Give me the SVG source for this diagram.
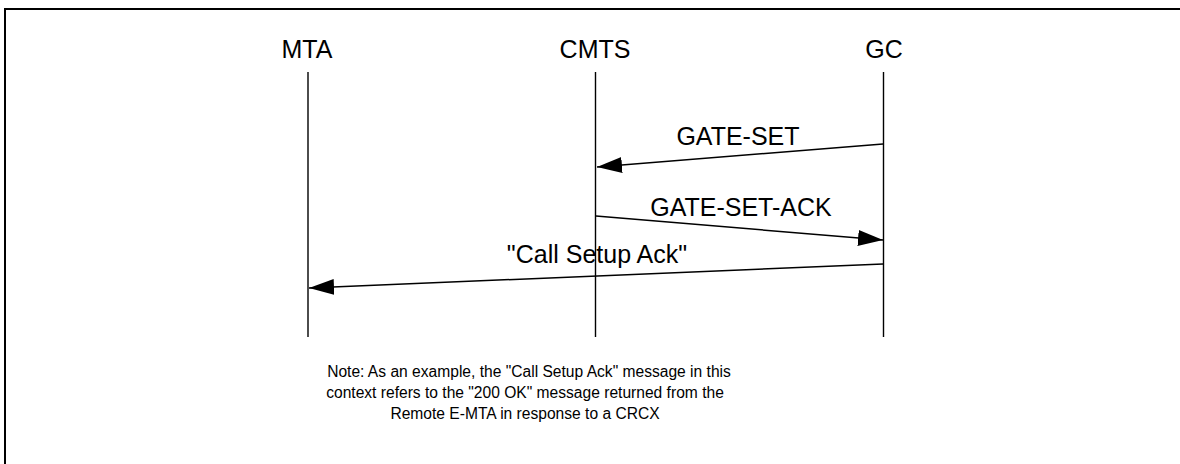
<svg xmlns="http://www.w3.org/2000/svg" width="1180" height="464" viewBox="0 0 1180 464">
  <style>
    text { font-family: "Liberation Sans", Arial, sans-serif; fill: #000; }
    .hdr { font-size: 25px; text-anchor: middle; }
    .msg { font-size: 25px; text-anchor: middle; }
    .note { font-size: 15.6px; text-anchor: middle; }
    .life { stroke: #000; stroke-width: 1.4; fill: none; }
    .arrow { stroke: #000; stroke-width: 1.5; fill: none; marker-end: url(#head); }
  </style>
  <defs>
    <marker id="head" markerUnits="userSpaceOnUse" markerWidth="26" markerHeight="18" refX="25" refY="8" orient="auto">
      <path d="M0,0 L25,8 L0,16 Z" fill="#000"/>
    </marker>
  </defs>
  <rect width="1180" height="464" fill="#fff"/>
  <path d="M5,464 V9 H1180" stroke="#000" stroke-width="2" fill="none"/>

  <g id="MTA">
    <text class="hdr" x="307" y="58">MTA</text>
    <line class="life" x1="308" y1="72" x2="308" y2="337"/>
  </g>
  <g id="CMTS">
    <text class="hdr" x="595" y="58">CMTS</text>
    <line class="life" x1="595.5" y1="72" x2="595.5" y2="337"/>
  </g>
  <g id="GC">
    <text class="hdr" x="884" y="58">GC</text>
    <line class="life" x1="883.5" y1="72" x2="883.5" y2="337"/>
  </g>

  <g id="connectors">
    <line class="arrow" x1="883" y1="144" x2="597" y2="167"/>
    <text class="msg" x="738" y="145">GATE-SET</text>
    <line class="arrow" x1="596" y1="216" x2="883" y2="240"/>
    <text class="msg" x="741" y="216">GATE-SET-ACK</text>
    <line class="arrow" x1="883" y1="264" x2="309" y2="288"/>
    <text class="msg" x="597" y="263">"Call Setup Ack"</text>
  </g>

  <g id="note">
    <text class="note" x="529" y="377">Note: As an example, the "Call Setup Ack" message in this</text>
    <text class="note" x="525" y="398">context refers to the "200 OK" message returned from the</text>
    <text class="note" x="525" y="419">Remote E-MTA in response to a CRCX</text>
  </g>
</svg>
